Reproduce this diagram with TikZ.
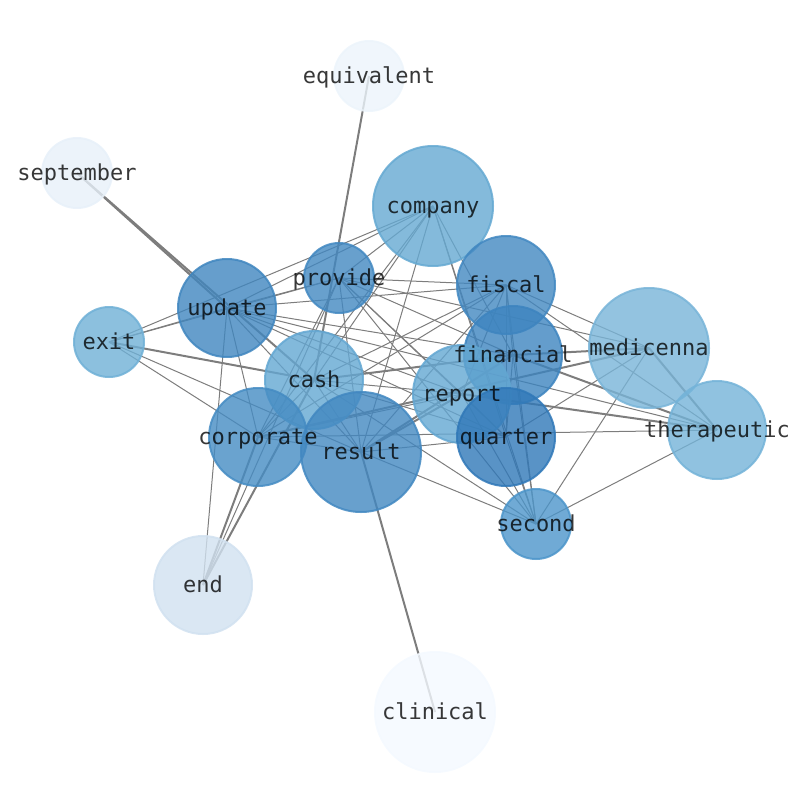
\documentclass[tikz,border=0pt]{standalone}
\usepackage{fontspec}
\newfontfamily\labelfont{DejaVu Sans Mono}
\pgfdeclarelayer{edgelayer}
\pgfsetlayers{edgelayer,main}
\definecolor{cEquivalent}{RGB}{236,244,251}
\definecolor{cSeptember}{RGB}{231,240,249}
\definecolor{cClinical}{RGB}{244,249,255}
\definecolor{cEnd}{RGB}{209,225,240}
\definecolor{cCompany}{RGB}{101,169,210}
\definecolor{cMid}{RGB}{66,136,193}
\definecolor{cUpdate}{RGB}{64,134,191}
\definecolor{cExit}{RGB}{111,176,214}
\definecolor{cMedicenna}{RGB}{120,180,216}
\definecolor{cFinancial}{RGB}{61,132,191}
\definecolor{cCash}{RGB}{99,167,210}
\definecolor{cTherapeutic}{RGB}{116,179,216}
\definecolor{cCorporate}{RGB}{69,140,195}
\definecolor{cQuarter}{RGB}{48,120,184}
\definecolor{cSecond}{RGB}{76,149,202}
\definecolor{cEdge}{RGB}{125,125,125}
\tikzset{
  bubble/.style={circle, inner sep=0pt, minimum size=#1, line width=2pt,
    fill opacity=0.8, draw opacity=0.85},
  ed/.style={draw=cEdge, line width=1pt},
  edt/.style={draw=cEdge, line width=2pt},
  lbl/.style={inner sep=0pt, text=black, text opacity=0.78,
    text height=17pt, text depth=3pt,
    font=\labelfont\fontsize{22}{26}\selectfont}
}
\begin{document}
\begin{tikzpicture}[x=1pt,y=-1pt]
\useasboundingbox (0,0) rectangle (794,790);
% bubbles
\node[bubble=70, fill=cEquivalent, draw=cEquivalent] (equivalent) at (369,76) {};
\node[bubble=70, fill=cSeptember, draw=cSeptember] (september) at (77,173) {};
\node[bubble=120, fill=cCompany, draw=cCompany] (company) at (433,206) {};
\node[bubble=70, fill=cMid, draw=cMid] (provide) at (339,278) {};
\node[bubble=98, fill=cMid, draw=cMid] (fiscal) at (506,285) {};
\node[bubble=98, fill=cUpdate, draw=cUpdate] (update) at (227,308) {};
\node[bubble=70, fill=cExit, draw=cExit] (exit) at (109,342) {};
\node[bubble=120, fill=cMedicenna, draw=cMedicenna] (medicenna) at (649,348) {};
\node[bubble=98, fill=cFinancial, draw=cFinancial] (financial) at (513,355) {};
\node[bubble=98, fill=cCash, draw=cCash] (cash) at (314,380) {};
\node[bubble=98, fill=cCash, draw=cCash] (report) at (462,394) {};
\node[bubble=98, fill=cTherapeutic, draw=cTherapeutic] (therapeutic) at (717,430) {};
\node[bubble=98, fill=cCorporate, draw=cCorporate] (corporate) at (258,437) {};
\node[bubble=98, fill=cQuarter, draw=cQuarter] (quarter) at (506,437) {};
\node[bubble=120, fill=cMid, draw=cMid] (result) at (361,452) {};
\node[bubble=70, fill=cSecond, draw=cSecond] (second) at (536,524) {};
\node[bubble=98, fill=cEnd, draw=cEnd] (end) at (203,585) {};
\node[bubble=120, fill=cClinical, draw=cClinical] (clinical) at (435,712) {};
% edges, under the bubbles
\begin{pgfonlayer}{edgelayer}
\foreach \a/\b in {equivalent/cash, september/update, september/cash,
  clinical/result, exit/cash, end/corporate, end/cash, financial/cash,
  financial/medicenna, financial/therapeutic, financial/result, report/result,
  report/therapeutic, medicenna/therapeutic, medicenna/corporate}
  \draw[edt] (\a.center) -- (\b.center);
\foreach \a/\b in {company/update, company/exit, company/provide, company/cash,
  company/corporate, company/result, company/financial, company/quarter,
  company/second,
  provide/update, provide/exit, provide/fiscal, provide/financial,
  provide/report, provide/quarter, provide/second, provide/corporate,
  provide/result, provide/end, provide/medicenna,
  fiscal/update, fiscal/corporate, fiscal/cash, fiscal/report, fiscal/quarter,
  fiscal/second, fiscal/financial, fiscal/medicenna, fiscal/therapeutic,
  fiscal/result,
  update/exit, update/financial, update/report, update/quarter, update/result,
  update/corporate, update/end, update/therapeutic,
  exit/corporate, exit/result,
  cash/quarter, cash/report, cash/corporate, cash/result, cash/second,
  corporate/report, corporate/therapeutic, corporate/result,
  result/quarter, result/second, report/second, report/quarter,
  quarter/second, quarter/medicenna, financial/second, financial/quarter,
  medicenna/second, therapeutic/second}
  \draw[ed] (\a.center) -- (\b.center);
\end{pgfonlayer}
% labels
\foreach \n in {equivalent, september, company, provide, fiscal, update, exit,
  medicenna, financial, cash, report, therapeutic, corporate, quarter, result,
  second, end, clinical}
  \node[lbl] (\n-label) at (\n.center) {\n};
\end{tikzpicture}
\end{document}
